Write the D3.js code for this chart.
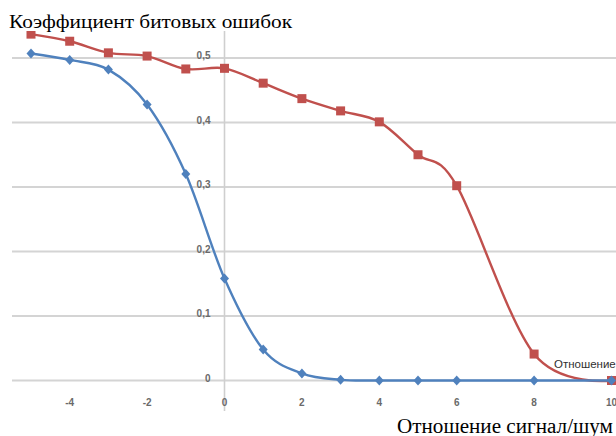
<!DOCTYPE html>
<html><head><meta charset="utf-8">
<script src="https://cdn.jsdelivr.net/npm/d3@7"></script>
<style>
html,body{margin:0;padding:0;background:#fff;}
svg{display:block;}
</style>
</head><body>
<svg id="c" width="616" height="436"></svg>
<script>
const snr = [-5,-4,-3,-2,-1,0,1,2,3,4,5,6,8,10];
const berBlue = [0.507,0.497,0.482,0.428,0.320,0.158,0.048,0.011,0.001,0,0,0,0,0];
const berRed  = [0.537,0.526,0.508,0.503,0.483,0.484,0.461,0.437,0.418,0.401,0.350,0.302,0.041,0];
const xTicks = [-4,-2,0,2,4,6,8,10];
const yTicks = [0,0.1,0.2,0.3,0.4,0.5];
const yTickLabels = ["0","0,1","0,2","0,3","0,4","0,5"];
const yTitle = "Коэффициент битовых ошибок";
const xTitle = "Отношение сигнал/шум";
const clippedLabel = "Отношение";

const svg = d3.select("#c");
const x = d3.scaleLinear().domain([0,10]).range([224.5,611.5]);
const y = d3.scaleLinear().domain([0,0.5]).range([380.5,58]);

svg.append("defs").append("clipPath").attr("id","pc")
  .append("rect").attr("x",0).attr("y",31).attr("width",616).attr("height",380);

const tickFont = "Liberation Sans Narrow, Liberation Sans, sans-serif";

// gridlines
svg.append("g").selectAll("line").data(yTicks).join("line")
  .attr("x1",12).attr("x2",616).attr("y1",d=>y(d)).attr("y2",d=>y(d))
  .attr("stroke","#d4d4d4").attr("stroke-width",1.8);
// vertical axis
svg.append("line").attr("x1",x(0)).attr("x2",x(0)).attr("y1",31).attr("y2",411)
  .attr("stroke","#cfcfcf").attr("stroke-width",1.6);

// y tick labels
svg.append("g").selectAll("text").data(yTicks).join("text")
  .attr("x",x(0)-14).attr("y",(d)=>y(d)+1)
  .attr("text-anchor","end").attr("font-family",tickFont)
  .attr("font-size",10).attr("font-weight","bold").attr("fill","#6a6a6a")
  .text((d,i)=>yTickLabels[i]);
// x tick labels
svg.append("g").selectAll("text").data(xTicks).join("text")
  .attr("x",d=>x(d)).attr("y",406)
  .attr("text-anchor","middle").attr("font-family",tickFont)
  .attr("font-size",10).attr("font-weight","bold").attr("fill","#6a6a6a")
  .text(d=>d);

const line = d3.line().x((d,i)=>x(snr[i])).y(d=>y(d)).curve(d3.curveCardinal.tension(0));
const g = svg.append("g").attr("clip-path","url(#pc)");

// red series
g.append("path").attr("d",line(berRed)).attr("fill","none").attr("stroke","#c0504d").attr("stroke-width",2.4);
g.append("g").selectAll("rect").data(berRed).join("rect")
  .attr("x",(d,i)=>x(snr[i])-4.5).attr("y",d=>y(d)-4.5).attr("width",9).attr("height",9)
  .attr("fill","#c0504d");

// clipped label
svg.append("text").attr("x",554).attr("y",368).attr("font-family","Liberation Sans, sans-serif")
  .attr("font-size",11.5).attr("fill","#303030").text(clippedLabel);

// blue series
g.append("path").attr("d",line(berBlue)).attr("fill","none").attr("stroke","#4f81bd").attr("stroke-width",2.4);
g.append("g").selectAll("path").data(berBlue).join("path")
  .attr("d","M0,-5L4.5,0L0,5L-4.5,0Z")
  .attr("transform",(d,i)=>`translate(${x(snr[i])},${y(d)})`)
  .attr("fill","#4f81bd");

// titles
svg.append("text").attr("x",9).attr("y",28).attr("font-family","Liberation Serif, serif")
  .attr("font-size",19.5).attr("textLength",283).attr("lengthAdjust","spacingAndGlyphs")
  .attr("fill","#000").text(yTitle);
svg.append("text").attr("x",397).attr("y",433).attr("font-family","Liberation Serif, serif")
  .attr("font-size",20.5).attr("textLength",216).attr("lengthAdjust","spacingAndGlyphs")
  .attr("fill","#000").text(xTitle);
</script>
</body></html>
